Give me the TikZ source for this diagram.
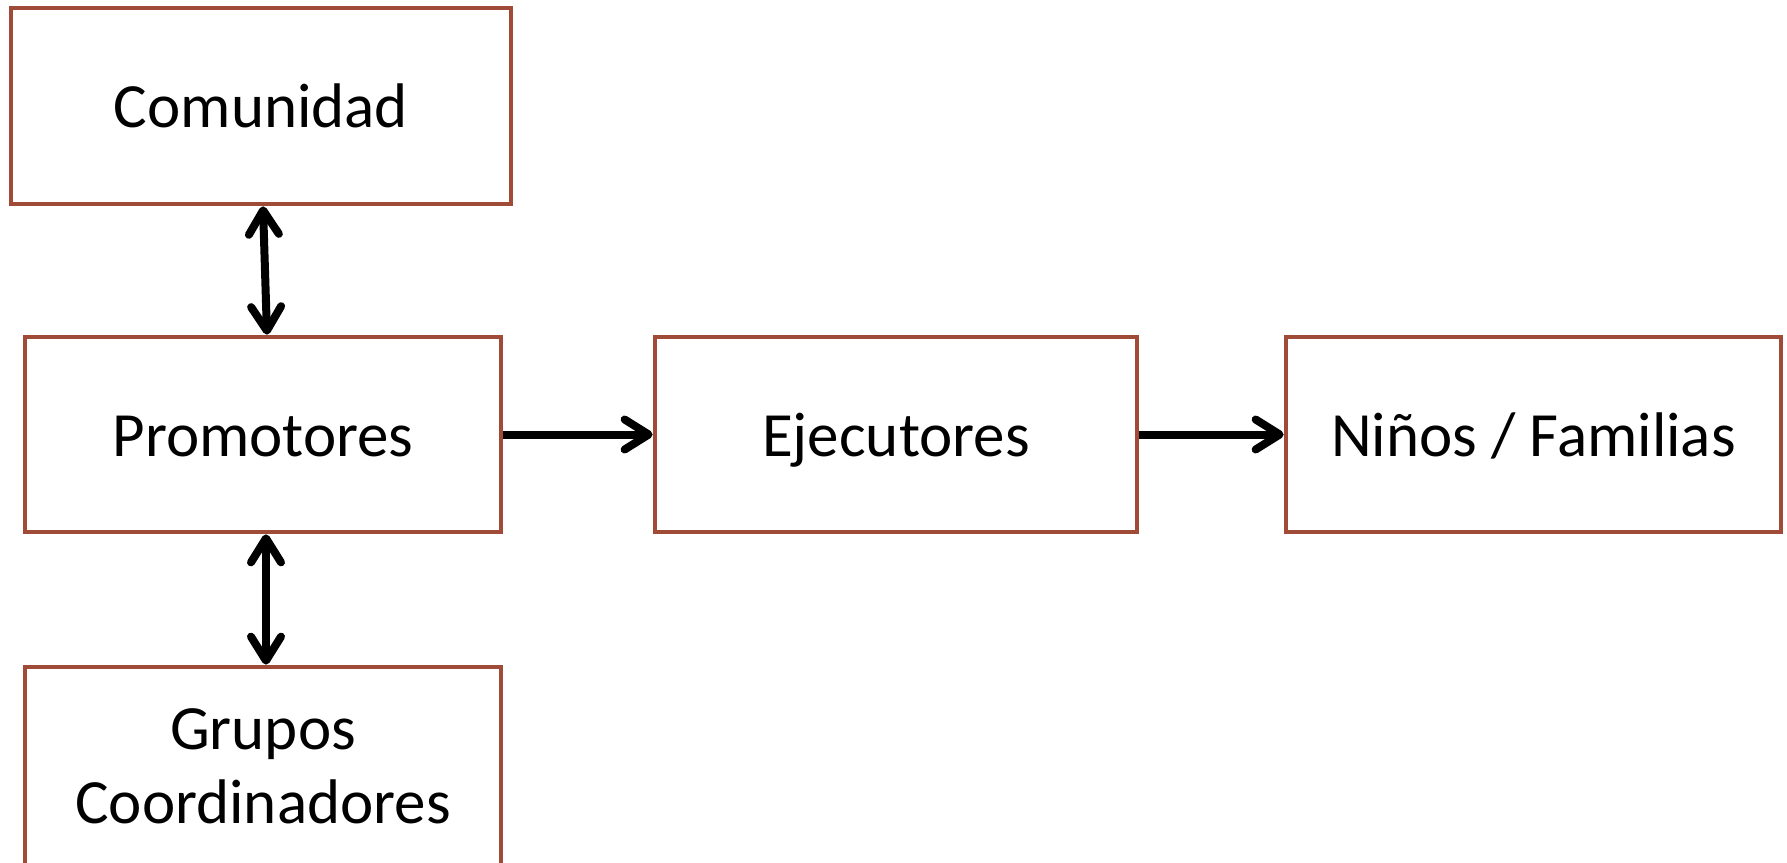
\documentclass[tikz,border=0pt]{standalone}
\usepackage{fontspec}
\setmainfont{Carlito}
\usetikzlibrary{arrows.meta}
\definecolor{boxred}{HTML}{A04A38}
\tikzset{
  blk/.style={draw=boxred, line width=4.7pt, rectangle, fill=white, align=center,
    font=\fontsize{63}{74}\selectfont, inner sep=0pt},
  one/.style={text height=55pt, text depth=12pt},
  conn/.style={line width=8pt, draw=black},
  barb/.tip={Straight Barb[length=24pt,width=30pt,round]},
  tip/.style={-barb},
  dtip/.style={barb-barb}
}
\begin{document}
\begin{tikzpicture}[x=1pt,y=-1pt]
\path[use as bounding box, clip] (0,0) rectangle (1787,862);
\fill[white] (0,0) rectangle (1787,862);
\node[blk, one, minimum width=500pt, minimum height=196pt] (com) at (261,106) {Comunidad};
\node[blk, one, minimum width=476pt, minimum height=195pt] (pro) at (263,434.5) {Promotores};
\node[blk, minimum width=476pt, minimum height=198pt] (gru) at (263,766) {Grupos\\Coordinadores};
\node[blk, one, minimum width=482pt, minimum height=195pt] (eje) at (896,434.5) {Ejecutores};
\node[blk, one, minimum width=495pt, minimum height=195pt] (nin) at (1533.5,434.5) {Niños / Familias};
\draw[conn, dtip] ([xshift=2pt]com.south) -- ([xshift=4pt]pro.north);
\draw[conn, dtip] ([xshift=3pt]pro.south) -- ([xshift=3pt]gru.north);
\draw[conn, tip] (pro.east) -- (eje.west);
\draw[conn, tip] (eje.east) -- (nin.west);
\end{tikzpicture}
\end{document}
